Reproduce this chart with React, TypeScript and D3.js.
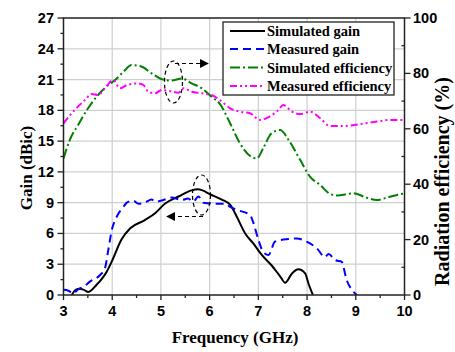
import React from 'react';
import * as d3 from 'd3';

const freqTicks = [3, 4, 5, 6, 7, 8, 9, 10];
const gainTicks = [0, 3, 6, 9, 12, 15, 18, 21, 24, 27];
const effTicks = [0, 20, 40, 60, 80, 100];

const simGain: [number, number][] = [
  [3.17, 0], [3.25, 0.5], [3.33, 0.6], [3.42, 0.5], [3.51, 0.3], [3.68, 1.0], [3.89, 2.3], [3.99, 3.25],
  [4.19, 5.4], [4.37, 6.5], [4.67, 7.3], [4.88, 7.96], [5.08, 8.9], [5.36, 9.6], [5.63, 10.2],
  [5.76, 10.3], [6.04, 9.75], [6.25, 9.3], [6.42, 8.8], [6.56, 7.6], [6.73, 6.0], [6.9, 5.0],
  [7.07, 3.9], [7.27, 2.9], [7.45, 1.8], [7.55, 1.2], [7.69, 2.1], [7.82, 2.5], [7.96, 2.1],
  [8.03, 1.1], [8.12, 0]
];

const measGain: [number, number][] = [
  [3.0, 0.5], [3.1, 0.42], [3.2, 0.15], [3.3, 0.55], [3.44, 0.9], [3.54, 1.3], [3.75, 1.95],
  [3.85, 2.6], [3.92, 4.4], [3.99, 6.3], [4.09, 7.6], [4.23, 8.6], [4.3, 9.0], [4.43, 9.2],
  [4.54, 8.9], [4.67, 9.0], [4.81, 9.3], [4.88, 9.1], [5.08, 9.3], [5.22, 9.5], [5.43, 9.26],
  [5.56, 9.4], [5.66, 9.1], [5.77, 9.6], [5.87, 9.0], [6.11, 8.9], [6.32, 8.9], [6.42, 8.6],
  [6.56, 8.3], [6.83, 7.8], [6.9, 7.0], [7.0, 5.4], [7.1, 4.2], [7.21, 3.9], [7.34, 5.2],
  [7.51, 5.4], [7.79, 5.5], [7.99, 5.2], [8.2, 4.55], [8.37, 3.7], [8.44, 4.0], [8.58, 3.4],
  [8.71, 3.25], [8.81, 1.5], [8.92, 0.5], [9.02, 0]
];

const simEff: [number, number][] = [
  [3.0, 49.3], [3.13, 56], [3.3, 61.4], [3.48, 66.8], [3.68, 71.6], [3.92, 75.8], [4.06, 77.6],
  [4.23, 80.6], [4.4, 83.0], [4.61, 82.4], [4.81, 80.0], [5.02, 77.9], [5.22, 77.4], [5.43, 78.2],
  [5.63, 76.4], [5.84, 74.6], [6.04, 71.6], [6.21, 69], [6.42, 62], [6.62, 54.8], [6.83, 50.2],
  [6.97, 49.3], [7.1, 53], [7.27, 58.4], [7.45, 59.6], [7.62, 56], [7.86, 48.7], [8.06, 42.7],
  [8.27, 39.7], [8.47, 36.5], [8.61, 35.9], [8.95, 36.7], [9.23, 35.1], [9.43, 34.3], [9.7, 35.5],
  [10, 36.7]
];

const measEff: [number, number][] = [
  [3.0, 62], [3.23, 66.8], [3.44, 70.4], [3.58, 72.6], [3.71, 72.2], [3.85, 74.6], [4.02, 77.6],
  [4.16, 74.6], [4.3, 75.8], [4.54, 76.4], [4.64, 75.8], [4.74, 73.4], [4.88, 72.8], [5.02, 74],
  [5.19, 73.6], [5.36, 73], [5.46, 74.6], [5.63, 73.4], [5.84, 72.8], [6.04, 72.2], [6.21, 70.4],
  [6.42, 67.4], [6.62, 66.2], [6.83, 65.6], [7.03, 63.2], [7.23, 64.4], [7.41, 66.8], [7.51, 68.6],
  [7.69, 66.2], [7.86, 65.3], [8.06, 66.2], [8.27, 63.8], [8.47, 61], [8.75, 61], [9.09, 61.7],
  [9.43, 62.6], [9.7, 63.2], [10, 63.2]
];

const legendLabels = ['Simulated gain', 'Measured gain', 'Simulated efficiency', 'Measured efficiency'];

const W = 455, H = 352;
const L = 63.5, R = 404.5, T = 18, B = 295;

const sansBold = { fontFamily: 'Arial, "Liberation Sans", sans-serif', fontWeight: 700 } as const;
const serifBold = { fontFamily: '"Times New Roman", "Liberation Serif", serif', fontWeight: 700 } as const;

export default function App() {
  const x = d3.scaleLinear().domain([3, 10]).range([L, R]);
  const yG = d3.scaleLinear().domain([0, 27]).range([B, T]);
  const yE = d3.scaleLinear().domain([0, 100]).range([B, T]);

  const lineG = d3.line<[number, number]>().x(d => x(d[0])).y(d => yG(d[1])).curve(d3.curveMonotoneX);
  const lineE = d3.line<[number, number]>().x(d => x(d[0])).y(d => yE(d[1])).curve(d3.curveMonotoneX);

  const minorX = d3.range(3.5, 10, 1);
  const minorG = d3.range(1.5, 27, 3);
  const minorE = d3.range(10, 100, 20);

  const styles = [
    { stroke: '#000000', dash: undefined },
    { stroke: '#0000ff', dash: '8,5' },
    { stroke: '#008000', dash: '10,3,2,3' },
    { stroke: '#ff00ff', dash: '7,3,2,3,2,3' },
  ];
  const series = [
    lineG(simGain), lineG(measGain), lineE(simEff), lineE(measEff)
  ];

  const lgX = 223, lgY = 22, lgW = 171, lgH = 73;
  const rowY = [31, 49, 67.5, 86];

  return (
    <svg width={W} height={H} style={{ position: 'absolute', left: 0, top: 0, background: '#fff' }}>
      <defs>
        <clipPath id="plot"><rect x={L} y={T} width={R - L} height={B - T} /></clipPath>
        <marker id="arrowHead" viewBox="0 0 10 10" refX="9" refY="5" markerWidth="9" markerHeight="9" markerUnits="userSpaceOnUse" orient="auto">
          <path d="M0,0 L10,5 L0,10 z" fill="#000" />
        </marker>
      </defs>
      <rect x={0} y={0} width={W} height={H} fill="#fff" />
      {/* grid */}
      <g stroke="#cfcfcf" strokeWidth={1.2}>
        {freqTicks.slice(1, -1).map(t => <line key={'gx' + t} x1={x(t)} x2={x(t)} y1={T} y2={B} />)}
        {gainTicks.slice(1, -1).map(t => <line key={'gy' + t} x1={L} x2={R} y1={yG(t)} y2={yG(t)} />)}
      </g>
      {/* curves */}
      <g clipPath="url(#plot)" fill="none">
        {series.map((d, i) => (
          <path key={i} d={d || ''} stroke={styles[i].stroke} strokeWidth={2} strokeDasharray={styles[i].dash} />
        ))}
      </g>
      {/* frame */}
      <rect x={L} y={T} width={R - L} height={B - T} fill="none" stroke="#222" strokeWidth={1.5} />
      {/* ticks */}
      <g stroke="#222" strokeWidth={1.3}>
        {freqTicks.map(t => <line key={'bt' + t} x1={x(t)} x2={x(t)} y1={B} y2={B + 5} />)}
        {minorX.map(t => <line key={'bm' + t} x1={x(t)} x2={x(t)} y1={B} y2={B + 3} />)}
        {gainTicks.map(t => <line key={'lt' + t} x1={L - 6} x2={L} y1={yG(t)} y2={yG(t)} />)}
        {minorG.map(t => <line key={'lm' + t} x1={L - 3} x2={L} y1={yG(t)} y2={yG(t)} />)}
        {effTicks.map(t => <line key={'rt' + t} x1={R} x2={R + 6} y1={yE(t)} y2={yE(t)} />)}
        {minorE.map(t => <line key={'rm' + t} x1={R - 3} x2={R} y1={yE(t)} y2={yE(t)} />)}
      </g>
      {/* tick labels */}
      <g style={sansBold} fontSize={14.5} fill="#000">
        {freqTicks.map(t => <text key={'bl' + t} x={x(t)} y={315.5} textAnchor="middle">{t}</text>)}
        {gainTicks.map(t => <text key={'ll' + t} x={54} y={yG(t) + 5} textAnchor="end">{t}</text>)}
        {effTicks.map(t => <text key={'rl' + t} x={413} y={yE(t) + 5} textAnchor="start">{t}</text>)}
      </g>
      {/* axis titles */}
      <g style={serifBold} fill="#000">
        <text x={235} y={343} fontSize={17} textAnchor="middle">Frequency (GHz)</text>
        <text transform={`translate(32,168) rotate(-90)`} fontSize={17} textAnchor="middle">Gain (dBic)</text>
        <text transform={`translate(449,181.5) rotate(-90)`} fontSize={20} textAnchor="middle">Radiation efficiency (%)</text>
      </g>
      {/* legend */}
      <rect x={lgX} y={lgY} width={lgW} height={lgH} fill="#fff" stroke="#222" strokeWidth={1.3} />
      {legendLabels.map((lab, i) => (
        <g key={lab}>
          <line x1={230} x2={265} y1={rowY[i]} y2={rowY[i]} stroke={styles[i].stroke} strokeWidth={2} strokeDasharray={styles[i].dash} />
          <text x={267} y={rowY[i] + 5} style={serifBold} fontSize={14.5} fill="#000">{lab}</text>
        </g>
      ))}
      {/* annotations */}
      <g fill="none" stroke="#000" strokeWidth={1.2} strokeDasharray="4,3">
        <ellipse cx={173.5} cy={82} rx={9} ry={21} />
        <line x1={175} y1={63.5} x2={208} y2={63.5} markerEnd="url(#arrowHead)" />
        <ellipse cx={201.5} cy={195} rx={9} ry={20} />
        <line x1={203} y1={216.5} x2={167} y2={216.5} markerEnd="url(#arrowHead)" />
      </g>
    </svg>
  );
}
